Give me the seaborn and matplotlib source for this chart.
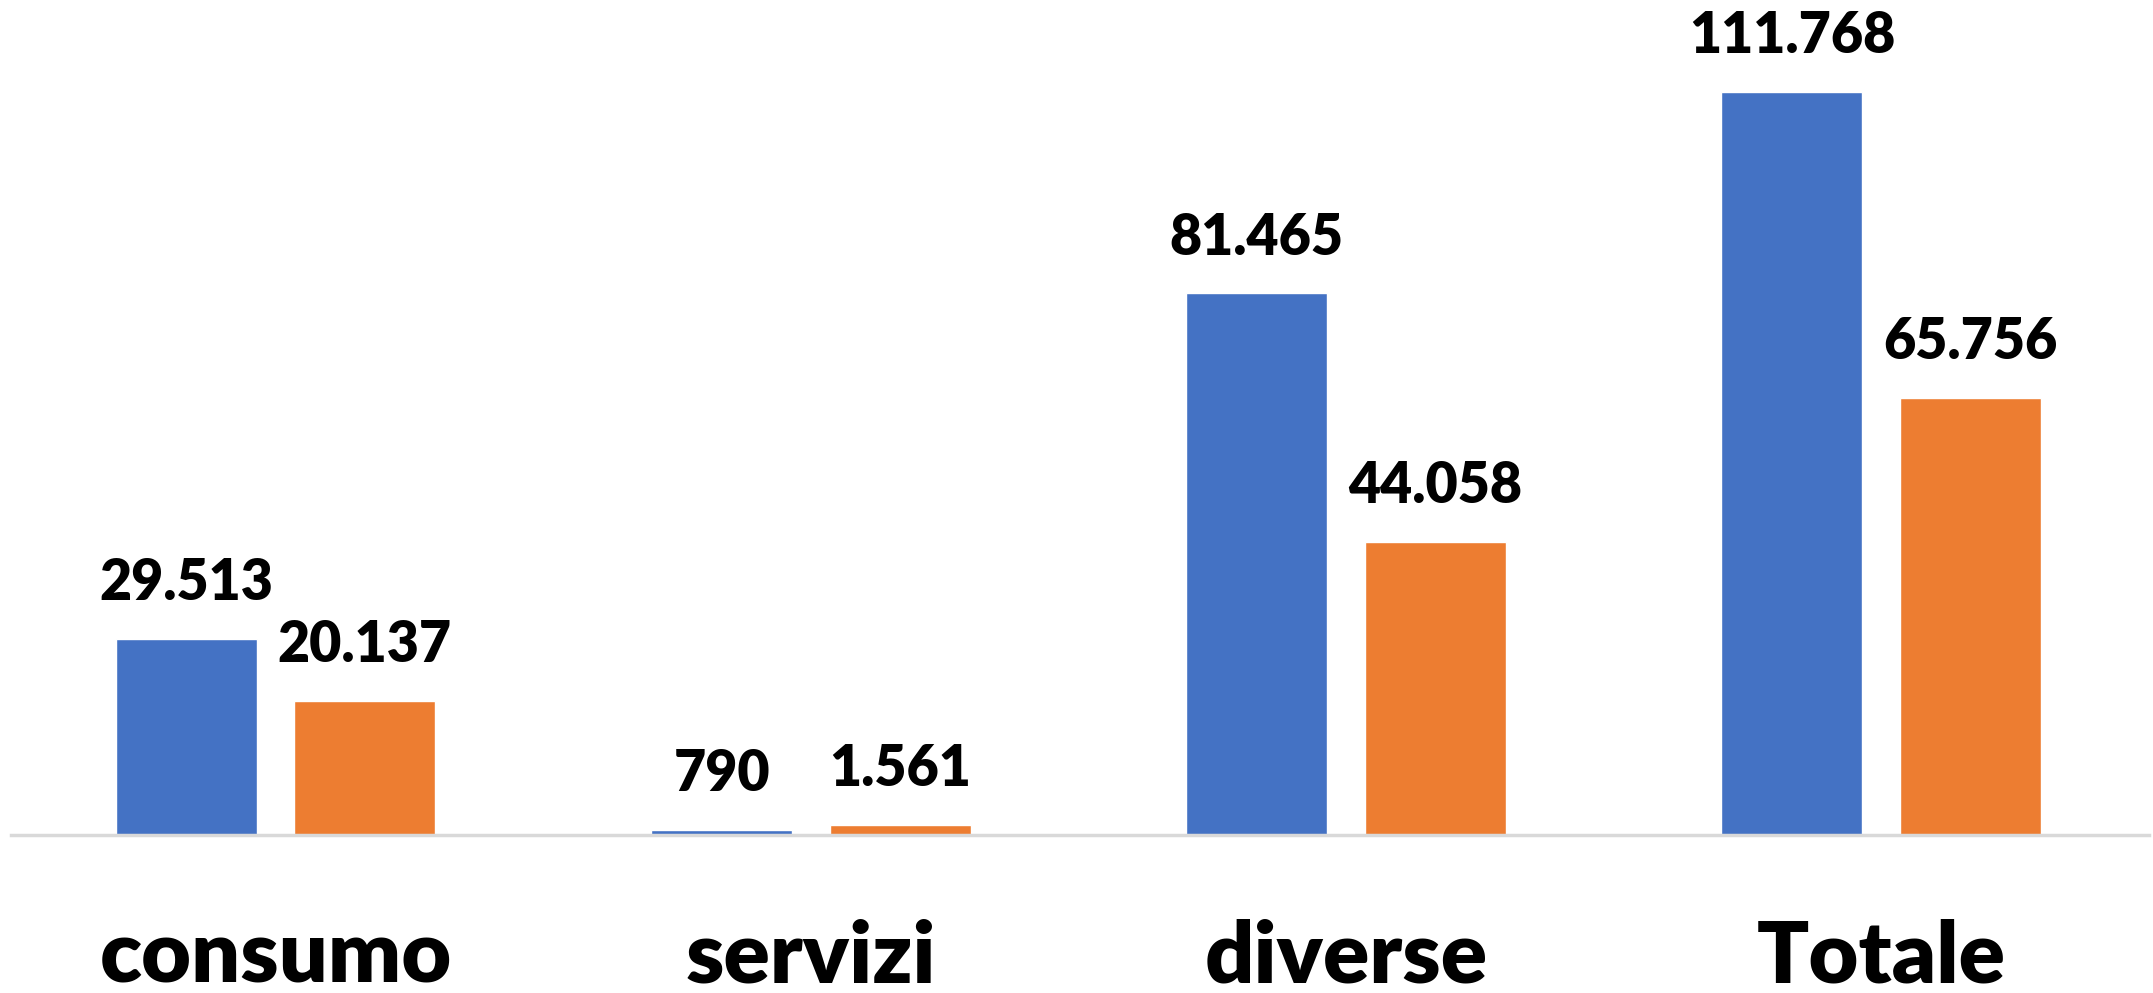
import matplotlib
matplotlib.use("Agg")
import matplotlib.pyplot as plt
import pandas as pd
import seaborn as sns

categorie = ["consumo", "servizi", "diverse", "Totale"]
serie = ["A", "B"]
valori_a = [29513, 790, 81465, 111768]
valori_b = [20137, 1561, 44058, 65756]
etichette_a = ["29.513", "790", "81.465", "111.768"]
etichette_b = ["20.137", "1.561", "44.058", "65.756"]

df = pd.DataFrame({
    "Categoria": categorie * 2,
    "Serie": [serie[0]] * 4 + [serie[1]] * 4,
    "Valore": valori_a + valori_b,
})

sns.set_theme(style="white")
plt.rcParams["font.family"] = ["Lato", "DejaVu Sans"]

fig = plt.figure(figsize=(21.53, 9.93), dpi=100)
ax = fig.add_axes([0.005, 0.159, 0.993, 0.841])

sns.barplot(data=df, x="Categoria", y="Valore", hue="Serie",
            palette=["#4472C4", "#ED7D31"], width=0.667, gap=0.21,
            saturation=1, legend=False, ax=ax)

ax.set_xlim(-0.495, 3.5)
ax.set_ylim(0, 125600)

# etichette dei valori sopra le barre
etichette = etichette_a + etichette_b
for patch, txt in zip(ax.patches, etichette):
    x = patch.get_x() + patch.get_width() / 2
    ax.annotate(txt, (x, patch.get_height()), xytext=(0, 28),
                textcoords="offset points", ha="center", va="baseline",
                fontsize=40, fontweight="heavy", color="black")

ax.set_xlabel("")
ax.set_ylabel("")
ax.set_yticks([])
ax.tick_params(axis="x", length=0, pad=60, labelsize=62, labelcolor="black")
for lab in ax.get_xticklabels():
    lab.set_fontweight("heavy")
for s in ["top", "left", "right"]:
    ax.spines[s].set_visible(False)
ax.spines["bottom"].set_color("#D9D9D9")
ax.spines["bottom"].set_linewidth(2.5)

fig.savefig("out.png", dpi=100)
